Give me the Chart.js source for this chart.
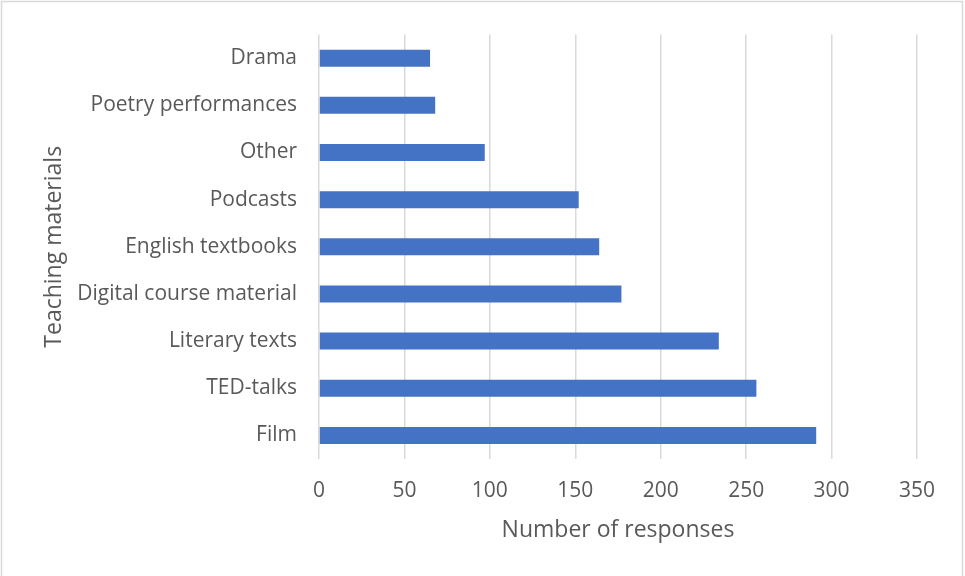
<!DOCTYPE html>
<html>
<head>
<meta charset="utf-8">
<title>Teaching materials</title>
<script src="https://cdn.jsdelivr.net/npm/chart.js@4.4.1/dist/chart.umd.min.js"></script>
<style>
  html, body { margin: 0; padding: 0; background: #fff; }
  #wrap { width: 965px; height: 576px; position: relative; }
</style>
</head>
<body>
<div id="wrap"><canvas id="materialsChart" width="965" height="576"></canvas></div>
<script>
// categories top to bottom
const materials = [
  'Drama',
  'Poetry performances',
  'Other',
  'Podcasts',
  'English textbooks',
  'Digital course material',
  'Literary texts',
  'TED-talks',
  'Film'
];
const responses = [65, 68, 97, 152, 164, 177, 234, 256, 291];
const xTicks = [0, 50, 100, 150, 200, 250, 300, 350];

const labelGrey = '#595959';
const fontFamily = '"Open Sans", "Liberation Sans", sans-serif';

// white background + thin frame (top, left, right) round the chart
const frame = {
  id: 'frame',
  beforeDraw(chart) {
    const c = chart.ctx;
    c.save();
    c.fillStyle = '#fff';
    c.fillRect(0, 0, chart.width, chart.height);
    c.strokeStyle = '#d9d9d9';
    c.lineWidth = 1.5;
    c.beginPath();
    c.moveTo(1.5, chart.height);
    c.lineTo(1.5, 1.5);
    c.lineTo(962.5, 1.5);
    c.lineTo(962.5, chart.height);
    c.stroke();
    c.restore();
  }
};

document.addEventListener('DOMContentLoaded', () => {
  const ctx = document.getElementById('materialsChart').getContext('2d');

  window.materialsChart = new Chart(ctx, {
    type: 'bar',
    data: {
      labels: materials,
      datasets: [{
        label: 'Number of responses',
        data: responses,
        backgroundColor: '#4472c4',
        borderWidth: 0,
        barPercentage: 0.36,
        categoryPercentage: 1
      }]
    },
    options: {
      indexAxis: 'y',
      responsive: false,
      animation: false,
      layout: { padding: { top: 30, right: 48, bottom: 0, left: 0 } },
      plugins: {
        legend: { display: false },
        tooltip: { enabled: false }
      },
      scales: {
        x: {
          min: 0,
          max: 350,
          afterBuildTicks(scale) {
            scale.ticks = xTicks.map(v => ({ value: v }));
          },
          afterFit(scale) { scale.height = 117; },
          border: { display: false },
          grid: { color: '#d9d9d9', lineWidth: 1.5, drawTicks: false },
          ticks: {
            color: labelGrey,
            padding: 19,
            font: { family: fontFamily, size: 21 }
          },
          title: {
            display: true,
            text: 'Number of responses',
            color: labelGrey,
            padding: { top: 0, bottom: 32 },
            font: { family: fontFamily, size: 23 }
          }
        },
        y: {
          afterFit(scale) { scale.width = 319; },
          border: { display: false },
          grid: { display: false, drawTicks: false },
          ticks: {
            color: labelGrey,
            padding: 22,
            font: { family: fontFamily, size: 21 }
          },
          title: {
            display: true,
            text: 'Teaching materials',
            color: labelGrey,
            padding: { top: 41, bottom: 0 },
            font: { family: fontFamily, size: 23 }
          }
        }
      }
    },
    plugins: [frame]
  });
});
</script>
</body>
</html>
